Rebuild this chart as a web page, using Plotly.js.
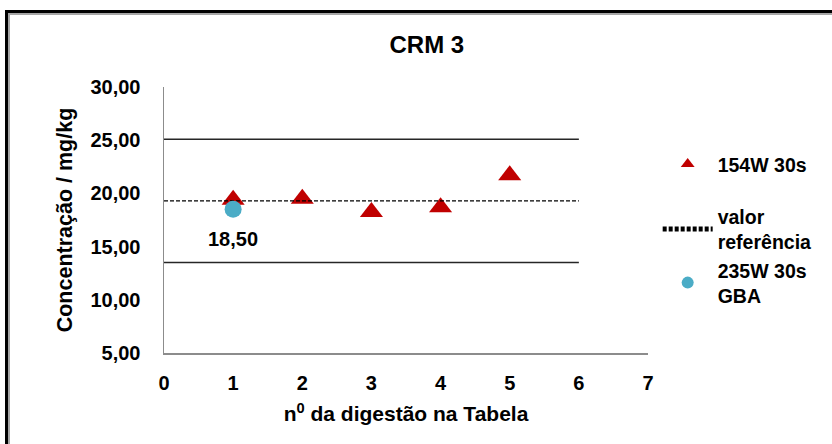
<!DOCTYPE html>
<html><head><meta charset="utf-8">
<script src="https://cdn.plot.ly/plotly-3.0.1.min.js"></script>
<style>
html,body{margin:0;padding:0;background:#fff;}
#wrap{position:relative;width:832px;height:444px;overflow:hidden;background:#fff;}
#chart{position:absolute;left:0;top:0;width:832px;height:444px;}
#frame{position:absolute;left:5px;top:10px;width:900px;height:500px;border-left:3px solid #000;border-top:3px solid #000;box-shadow:inset 2px 2px 0 #a6a6a6;pointer-events:none;}
</style></head>
<body><div id="wrap"><div id="chart"></div><div id="frame"></div></div>
<script>
// data
const digestion = [1, 2, 3, 4, 5];
const conc154W = [19.4, 19.5, 18.25, 18.7, 21.7];
const gbaX = [1];
const gba235W = [18.5];
const refX = [0, 6];
const refValue = [19.3, 19.3];
const upperLimit = [25.1, 25.1];
const lowerLimit = [13.5, 13.5];
const seriesNames = ['154W 30s', 'valor<br>referência', '235W 30s<br>GBA'];
const yTicks = [5, 10, 15, 20, 25, 30];
const xTicks = [0, 1, 2, 3, 4, 5, 6, 7];

const FONT = 'Liberation Sans, Arial, sans-serif';
const fmt = v => v.toFixed(2).replace('.', ',');

const traces = [
  {x: refX, y: upperLimit, mode: 'lines', line: {color: '#262626', width: 1.5}, showlegend: false, hoverinfo: 'skip'},
  {x: refX, y: lowerLimit, mode: 'lines', line: {color: '#262626', width: 1.5}, showlegend: false, hoverinfo: 'skip'},
  {x: digestion, y: conc154W, mode: 'markers', name: seriesNames[0], legendgroup: 'a',
   marker: {symbol: 'triangle-up', size: 20, color: '#C00000'}, cliponaxis: false},
  {x: refX, y: refValue, mode: 'lines', name: seriesNames[1], legendgroup: 'b',
   line: {color: '#000000', width: 1.2, dash: '4px,2px'}},
  {x: gbaX, y: gba235W, mode: 'markers', name: seriesNames[2], legendgroup: 'b',
   marker: {symbol: 'circle', size: 17, color: '#4BACC6'}, cliponaxis: false}
];

const layout = {
  width: 832, height: 444,
  margin: {l: 164, r: 184, t: 87, b: 91, pad: 0},
  paper_bgcolor: 'rgba(0,0,0,0)', plot_bgcolor: '#fff',
  separators: ',.',
  font: {family: FONT, color: '#000', size: 20, weight: 'bold'},
  showlegend: true,
  title: {text: 'CRM 3', font: {family: FONT, size: 24, weight: 'bold', color: '#000'},
          x: 0.513, xref: 'container', xanchor: 'center', y: 0.899, yref: 'container', yanchor: 'middle'},
  xaxis: {range: [0, 7], tickvals: xTicks, ticktext: xTicks.map(String), showgrid: false, zeroline: false,
          showline: true, linecolor: '#8c8c8c', linewidth: 1.5, ticks: '', ticklabelstandoff: 11,
          tickfont: {family: FONT, size: 20, weight: 'bold'},
          title: {text: 'n<sup>0</sup> da digestão na Tabela', standoff: 14,
                  font: {family: FONT, size: 21, weight: 'bold'}}},
  yaxis: {range: [5, 30], tickvals: yTicks, ticktext: yTicks.map(fmt), showgrid: false, zeroline: false,
          showline: true, linecolor: '#8c8c8c', linewidth: 1.5, ticks: '', ticklabelstandoff: 18,
          tickfont: {family: FONT, size: 20, weight: 'bold'},
          title: {text: 'Concentração / mg/kg', standoff: 12,
                  font: {family: FONT, size: 21.5, weight: 'bold'}}},
  legend: {x: 1.02, xanchor: 'left', y: 0.783, yanchor: 'top', xref: 'paper', yref: 'paper',
           font: {family: FONT, size: 19.5, weight: 'bold'}, itemsizing: 'constant', itemwidth: 50,
           traceorder: 'grouped', tracegroupgap: 24, bgcolor: 'rgba(0,0,0,0)'},
  annotations: [{x: gbaX[0], y: gba235W[0], xref: 'x', yref: 'y', text: fmt(gba235W[0]), showarrow: false,
                 yshift: -30, font: {family: FONT, size: 20, weight: 'bold', color: '#000'}}]
};

Plotly.newPlot('chart', traces, layout, {displayModeBar: false, staticPlot: true});
</script>
</body></html>
